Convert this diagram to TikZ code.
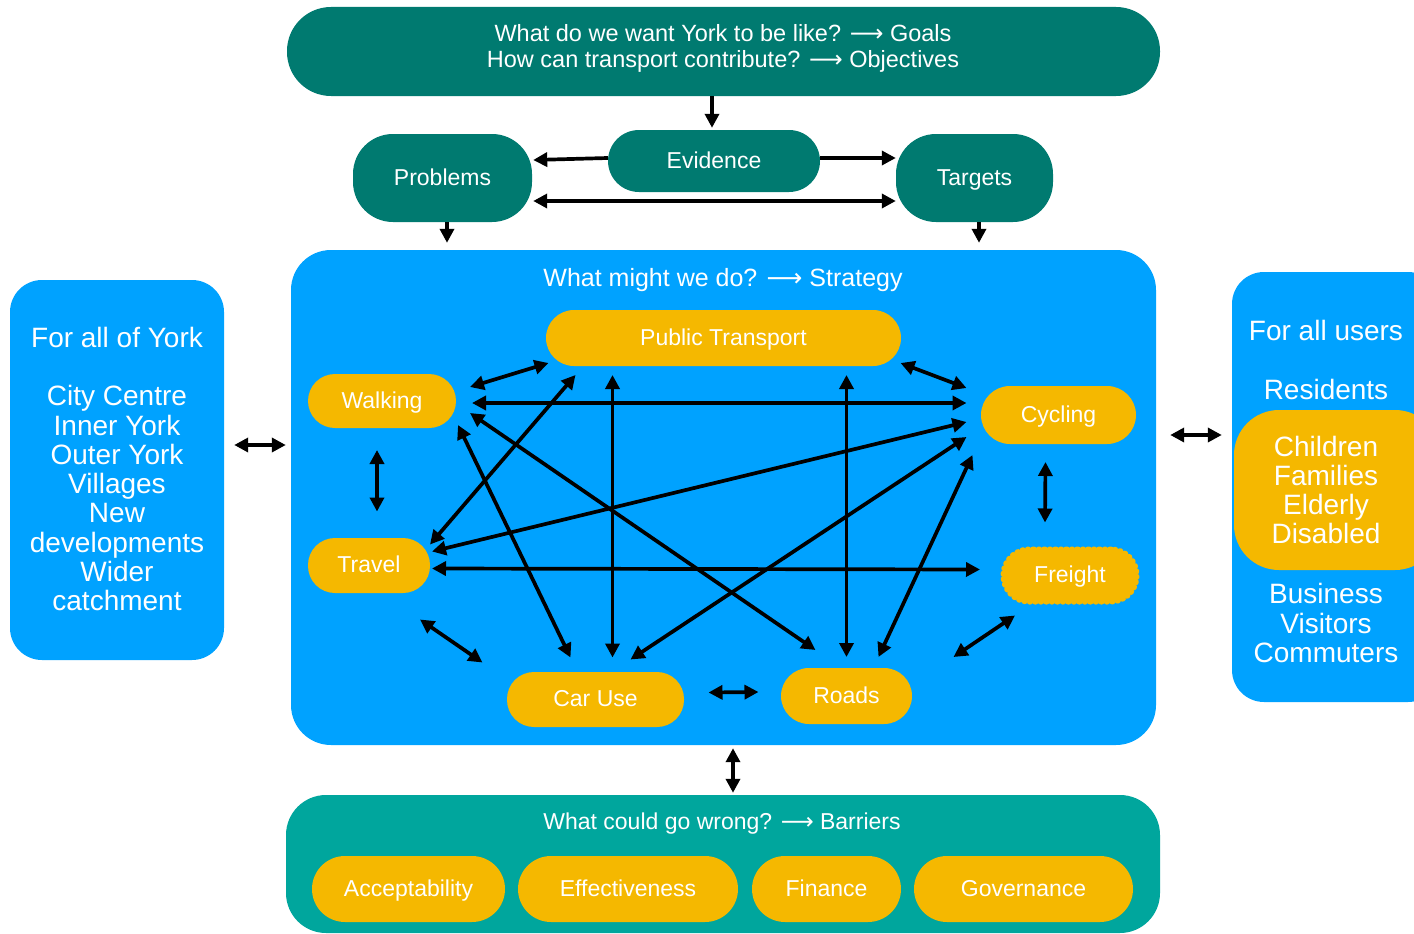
\documentclass[tikz,border=0pt]{standalone}
\usepackage{fontspec}
\setmainfont{Liberation Sans}
\newfontfamily\arrowfont{DejaVu Sans}
\usetikzlibrary{arrows.meta}
\definecolor{dteal}{RGB}{0,122,112}
\definecolor{lteal}{RGB}{0,166,157}
\definecolor{sky}{RGB}{0,162,255}
\definecolor{gold}{RGB}{245,184,0}
\newcommand\myfs[2]{\fontsize{#1}{#2}\selectfont}
\newcommand\lto{{\arrowfont\char"27F6}}
\tikzset{
  box/.style={inner sep=0pt, text=white},
  ynode/.style={box, fill=gold, font=\myfs{23}{26}, text height=17pt, text depth=3pt},
  tnode/.style={box, fill=dteal, font=\myfs{23}{26}, text height=17pt, text depth=3pt},
  wtext/.style={text=white, inner sep=0pt, align=center},
  dbl/.style={{Triangle[length=14pt,width=14pt]}-{Triangle[length=14pt,width=14pt]}, line width=3.7pt},
  sgl/.style={-{Triangle[length=14pt,width=14pt]}, line width=3.7pt},
}
\begin{document}
\begin{tikzpicture}[x=1pt,y=-1pt]
\useasboundingbox (0,0) rectangle (1414,934);
\clip (0,0) rectangle (1414,934);
\fill[white] (0,0) rectangle (1414,934);

% top level
\node[tnode, minimum width=873, minimum height=89, rounded corners=44] (top) at (723.5,51.5) {};
\node[wtext, font=\myfs{23.5}{26}] (toptext) at (723,48) {What do we want York to be like? \lto\ Goals\\How can transport contribute? \lto\ Objectives};
\node[tnode, minimum width=212, minimum height=62, rounded corners=31] (ev) at (714,161) {Evidence};
\node[tnode, minimum width=179, minimum height=88, rounded corners=40] (prob) at (442.5,178) {Problems};
\node[tnode, minimum width=157, minimum height=88, rounded corners=40] (targ) at (974.5,178) {Targets};

% big boxes
\node[box, fill=sky, minimum width=865, minimum height=495, rounded corners=40] (blue) at (723.5,497.5) {};
\node[wtext, font=\myfs{25}{28}] (strat) at (723,280) {What might we do? \lto\ Strategy};
\node[box, fill=sky, minimum width=214, minimum height=380, rounded corners=32] (left) at (117,470) {};
\node[wtext, font=\myfs{28}{29.3}] (lefttext) at (117,469) {For all of York\\[29.3pt]City Centre\\Inner York\\Outer York\\Villages\\New\\developments\\Wider\\catchment};
\node[box, fill=sky, minimum width=208, minimum height=430, rounded corners=32] (right) at (1336,487) {};
\node[box, fill=gold, minimum width=206, minimum height=160, rounded corners=45] (inner) at (1337,490) {};
\node[wtext, font=\myfs{28}{29.3}] (rt1) at (1326,330) {For all users};
\node[wtext, font=\myfs{28}{29.3}] (rt2) at (1326,389) {Residents};
\node[wtext, font=\myfs{28}{29.3}] (rt3) at (1326,490) {Children\\Families\\Elderly\\Disabled};
\node[wtext, font=\myfs{28}{29.3}] (rt4) at (1326,623) {Business\\Visitors\\Commuters};
\node[box, fill=lteal, minimum width=874, minimum height=138, rounded corners=40] (bot) at (723,864) {};
\node[wtext, font=\myfs{23}{26}] (barr) at (722,824) {What could go wrong? \lto\ Barriers};

% strategy nodes
\node[ynode, minimum width=355, minimum height=56, rounded corners=28] (pt) at (723.5,338) {Public Transport};
\node[ynode, minimum width=148, minimum height=54, rounded corners=27] (walk) at (382,401) {Walking};
\node[ynode, minimum width=155, minimum height=58, rounded corners=29] (cyc) at (1058.5,415) {Cycling};
\node[ynode, minimum width=122, minimum height=55, rounded corners=27] (trav) at (369,565.5) {Travel};
\node[ynode, minimum width=134, minimum height=53, rounded corners=26, draw=gold, line width=5pt, line cap=round, dash pattern=on 1pt off 4.5pt] (frt) at (1070,575.5) {Freight};
\node[ynode, minimum width=177, minimum height=55, rounded corners=27] (car) at (595.5,699.5) {Car Use};
\node[ynode, minimum width=131, minimum height=56, rounded corners=28] (road) at (846.5,696) {Roads};

% barrier nodes
\node[ynode, minimum width=193, minimum height=66, rounded corners=33] (acc) at (408.5,889) {Acceptability};
\node[ynode, minimum width=220, minimum height=66, rounded corners=33] (eff) at (628,889) {Effectiveness};
\node[ynode, minimum width=149, minimum height=66, rounded corners=33] (fin) at (826.5,889) {Finance};
\node[ynode, minimum width=219, minimum height=66, rounded corners=33] (gov) at (1023.5,889) {Governance};

% top connectors
\draw[sgl] ([shift={(-2,0)}]top.south -| ev.north) -- ([shift={(-2,-2)}]ev.north);
\draw[sgl] ([yshift=3pt]ev.west) -- ([shift={(1,-18)}]prob.east);
\draw[sgl] ([yshift=3pt]ev.east) -- ([shift={(0,-20)}]targ.west);
\draw[dbl] ([shift={(1,23)}]prob.east) -- ([shift={(0,23)}]targ.west);
\draw[sgl] ([xshift=4.5pt]prob.south) -- ([shift={(4.5,-7)}]prob.south |- blue.north);
\draw[sgl] ([xshift=4.5pt]targ.south) -- ([shift={(4.5,-7)}]targ.south |- blue.north);

% side connectors
\draw[dbl] ([shift={(10,-25)}]left.east) -- ([shift={(-5,-52.5)}]blue.west);
\draw[dbl] ([shift={(14,-62.5)}]blue.east) -- ([shift={(-10,-52)}]right.west);
\draw[dbl] ([shift={(9.5,3)}]blue.south) -- ([shift={(10,-2)}]bot.north);

% strategy connectors
\draw[dbl] ([shift={(88,-14)}]walk.center) -- ([shift={(-175,25)}]pt.center);
\draw[dbl] ([shift={(177,25)}]pt.center) -- ([shift={(-92,-27)}]cyc.center);
\draw[dbl] ([shift={(90,2)}]walk.center) -- ([shift={(-92,-12)}]cyc.center);
\draw[dbl] ([shift={(-5,49)}]walk.center) -- ([shift={(8,-54)}]trav.center);
\draw[dbl] ([shift={(-13,47)}]cyc.center) -- ([shift={(-25,-53)}]frt.center);
\draw[dbl] ([shift={(61,-21)}]trav.center) -- ([shift={(-148,37)}]pt.center);
\draw[dbl] ([shift={(-111,37)}]pt.center) -- ([shift={(17,-42)}]car.center);
\draw[dbl] ([shift={(123,37)}]pt.center) -- ([shift={(0,-39)}]road.center);
\draw[dbl] ([shift={(63,-14)}]trav.center) -- ([shift={(-92,7)}]cyc.center);
\draw[dbl] ([shift={(63,3)}]trav.center) -- ([shift={(-90,-6)}]frt.center);
\draw[dbl] ([shift={(76,24)}]walk.center) -- ([shift={(-25,-42)}]car.center);
\draw[dbl] ([shift={(88,12)}]walk.center) -- ([shift={(-31,-46)}]road.center);
\draw[dbl] ([shift={(-92,22)}]cyc.center) -- ([shift={(35,-40)}]car.center);
\draw[dbl] ([shift={(-86,40)}]cyc.center) -- ([shift={(32,-39)}]road.center);
\draw[dbl] ([shift={(51,54)}]trav.center) -- ([shift={(-113,-37)}]car.center);
\draw[dbl] ([shift={(-55,40)}]frt.center) -- ([shift={(107,-39)}]road.center);
\draw[dbl] ([shift={(113,-7)}]car.center) -- ([shift={(-88,-4)}]road.center);
\end{tikzpicture}
\end{document}
